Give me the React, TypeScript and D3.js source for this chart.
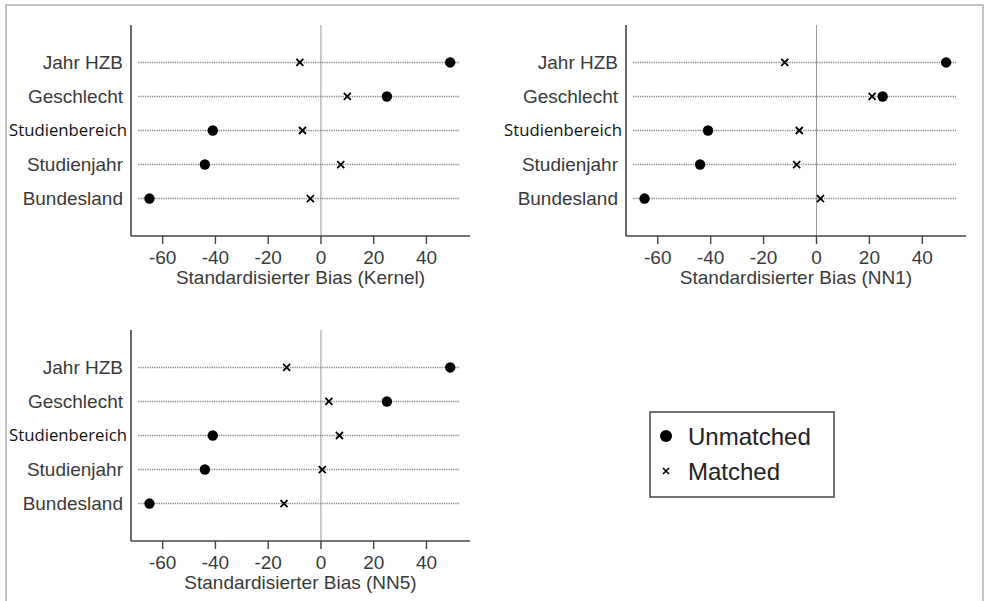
import React from "react";
import * as d3 from "d3";

const W = 987;
const H = 601;

const variables = ["Jahr HZB", "Geschlecht", "Studienbereich", "Studienjahr", "Bundesland"];
const unmatched = [49, 25, -41, -44, -65];
const matchedKernel = [-8, 10, -7, 7.5, -4];
const matchedNN1 = [-12, 21, -6.5, -7.5, 1.5];
const matchedNN5 = [-13, 3, 7, 0.5, -14];
const xTicks = [-60, -40, -20, 0, 20, 40];
const xDomain = [-72, 56.5];

const FONT = "Liberation Sans, Arial, sans-serif";
const TEXT = "#3a3a3a";

interface PanelProps {
    left: number;
    right: number;
    top: number;
    bottom: number;
    matched: number[];
    title: string;
}

function Panel({left, right, top, bottom, matched, title}: PanelProps) {
    const x = d3.scaleLinear().domain(xDomain).range([left, right]);
    const y = d3.scalePoint().domain(variables).range([top, bottom]).padding(1.1);

    return (
        <g>
            {/* zero reference line */}
            <line x1={x(0)} x2={x(0)} y1={top} y2={bottom} stroke="#9a9a9a" strokeWidth={1}/>

            {variables.map((v, i) => {
                const cy = y(v) as number;
                const odd = v === "Studienbereich";
                return (
                    <g key={v}>
                        <line x1={left + 7} x2={right - 10} y1={cy} y2={cy}
                              stroke="#8a8a8a" strokeWidth={1.4} strokeDasharray="1.3,1"/>
                        <text x={odd ? left - 4 : left - 8} y={cy} dy="0.35em" textAnchor="end"
                              fontFamily={odd ? "Open Sans, sans-serif" : FONT}
                              fontSize={odd ? 16.5 : 19} fill={odd ? "#111" : TEXT}
                              fontWeight={odd ? 500 : 400}
                              textLength={odd ? 118 : undefined}
                              lengthAdjust={odd ? "spacingAndGlyphs" : undefined}>{v}</text>
                        <circle cx={x(unmatched[i])} cy={cy} r={5.2} fill="#000"/>
                        <path d={`M${x(matched[i]) - 3.5},${cy - 3.5}l7,7M${x(matched[i]) - 3.5},${cy + 3.5}l7,-7`}
                              stroke="#000" strokeWidth={1.8}/>
                    </g>
                );
            })}

            {/* axes */}
            <line x1={left} x2={left} y1={top} y2={bottom} stroke="#444" strokeWidth={1.6}/>
            <line x1={left} x2={right} y1={bottom} y2={bottom} stroke="#444" strokeWidth={1.6}/>
            {xTicks.map(t => (
                <g key={t}>
                    <line x1={x(t)} x2={x(t)} y1={bottom} y2={bottom + 8} stroke="#444" strokeWidth={1.4}/>
                    <text x={x(t)} y={bottom + 28} textAnchor="middle" fontFamily={FONT}
                          fontSize={19} fill={TEXT}>{t}</text>
                </g>
            ))}
            <text x={(left + right) / 2} y={bottom + 48} textAnchor="middle" fontFamily={FONT}
                  fontSize={19} fill={TEXT}>{title}</text>
        </g>
    );
}

export default function App() {
    return (
        <svg width={W} height={H} style={{position: "absolute", left: 0, top: 0, background: "#fff"}}>
            <rect x={0} y={0} width={W} height={H} fill="#fff"/>
            <rect x={6} y={5} width={977} height={610} fill="none" stroke="#b0b0b0" strokeWidth={1.5}/>

            <Panel left={131} right={470} top={25} bottom={236} matched={matchedKernel}
                   title="Standardisierter Bias (Kernel)"/>
            <Panel left={626} right={966} top={25} bottom={236} matched={matchedNN1}
                   title="Standardisierter Bias (NN1)"/>
            <Panel left={131} right={470} top={330} bottom={541} matched={matchedNN5}
                   title="Standardisierter Bias (NN5)"/>

            {/* legend */}
            <g>
                <rect x={650} y={412} width={184} height={85} fill="#fff" stroke="#444" strokeWidth={1.5}/>
                <circle cx={666} cy={436} r={6} fill="#000"/>
                <text x={688} y={436} dy="0.36em" fontFamily={FONT} fontSize={24} fill="#222">Unmatched</text>
                <path d="M663,468l6,6M663,474l6,-6" stroke="#000" strokeWidth={1.6}/>
                <text x={688} y={471} dy="0.36em" fontFamily={FONT} fontSize={24} fill="#222">Matched</text>
            </g>
        </svg>
    );
}
